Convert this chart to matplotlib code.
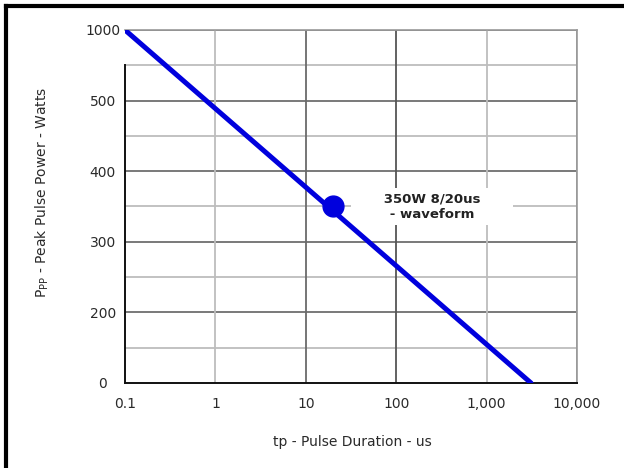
import numpy as np
import matplotlib
matplotlib.use("Agg")
import matplotlib.pyplot as plt
from matplotlib.lines import Line2D

# ---- data ----
pulse_us = [0.1, 3100]
power_w = [1000, 0]
marker_us = [20]
marker_w = [350]
annotation = "350W 8/20us\n- waveform"

x_ticks = [0.1, 1, 10, 100, 1000, 10000]
x_ticklabels = ["0.1", "1", "10", "100", "1,000", "10,000"]
y_major = [0, 200, 300, 400, 500, 1000]
y_minor = [100, 250, 350, 450, 750]
y_ticklabels = ["0", "200", "300", "400", "500", "1000"]

# piecewise-linear y scale: each labelled step gets equal height
_pos = np.arange(len(y_major), dtype=float)
def fwd(v):
    return np.interp(v, y_major, _pos)
def inv(p):
    return np.interp(p, _pos, y_major)

plt.rcParams['font.family'] = ['DejaVu Sans']
fig = plt.figure(figsize=(6.24, 4.68), dpi=100)
ax = fig.add_axes([125/624, 1 - 383/468, (577-125)/624, (383-30)/468])

ax.set_xscale('log')
ax.set_yscale('function', functions=(fwd, inv))
ax.set_xlim(0.1, 10000)
ax.set_ylim(0, 1000)

# grid lines
for v in y_minor:
    ax.axhline(v, color='#bdbdbd', lw=1.3, zorder=1)
for v in y_major[1:]:
    ax.axhline(v, color='#555555', lw=1.1, zorder=1)
vcols = ['#bdbdbd', '#6a6a6a', '#555555', '#bdbdbd', '#999999']
for v, c in zip(x_ticks[1:], vcols):
    ax.axvline(v, color=c, lw=1.3, zorder=1)

ax.set_xticks(x_ticks)
ax.set_xticklabels(x_ticklabels)
ax.xaxis.set_minor_locator(matplotlib.ticker.NullLocator())
ax.set_yticks(y_major)
ax.set_yticklabels(y_ticklabels, ha='center')
ax.yaxis.set_minor_locator(matplotlib.ticker.NullLocator())
ax.tick_params(length=0, labelsize=10, labelcolor='#2a2a2a')
ax.tick_params(axis='y', pad=16)
ax.tick_params(axis='x', pad=10)

for s in ['top', 'right']:
    ax.spines[s].set_color('#999999')
    ax.spines[s].set_linewidth(1.2)
for s in ['left', 'bottom']:
    ax.spines[s].set_color('#111111')
    ax.spines[s].set_linewidth(1.4)
ax.spines['left'].set_bounds(0, 750)

ax.plot(pulse_us, power_w, color='#0000dd', lw=3.6, solid_capstyle='round', zorder=4)
ax.plot(marker_us, marker_w, 'o', color='#0000dd', ms=15, zorder=5)

ax.text(250, 350, "      350W 8/20us      \n      - waveform      ", ha='center', va='center',
        fontsize=9.5, fontweight='bold', color='#222222', linespacing=1.25, zorder=3,
        bbox=dict(boxstyle='square,pad=0.35', fc='white', ec='none'))

fig.text(352/624, 1 - 442/468, "tp - Pulse Duration - us", ha='center', va='center',
         fontsize=10, color='#2a2a2a')
fig.text(42/624, 1 - 192/468, r"P$_{\mathregular{PP}}$ - Peak Pulse Power - Watts",
         ha='center', va='center', rotation=90, fontsize=10, color='#2a2a2a')

# outer frame (top and left)
fig.add_artist(Line2D([6/624, 1], [1 - 6/468, 1 - 6/468], transform=fig.transFigure,
                      color='black', lw=3))
fig.add_artist(Line2D([6/624, 6/624], [0, 1 - 6/468], transform=fig.transFigure,
                      color='black', lw=3))

fig.savefig('out.png', dpi=100)
